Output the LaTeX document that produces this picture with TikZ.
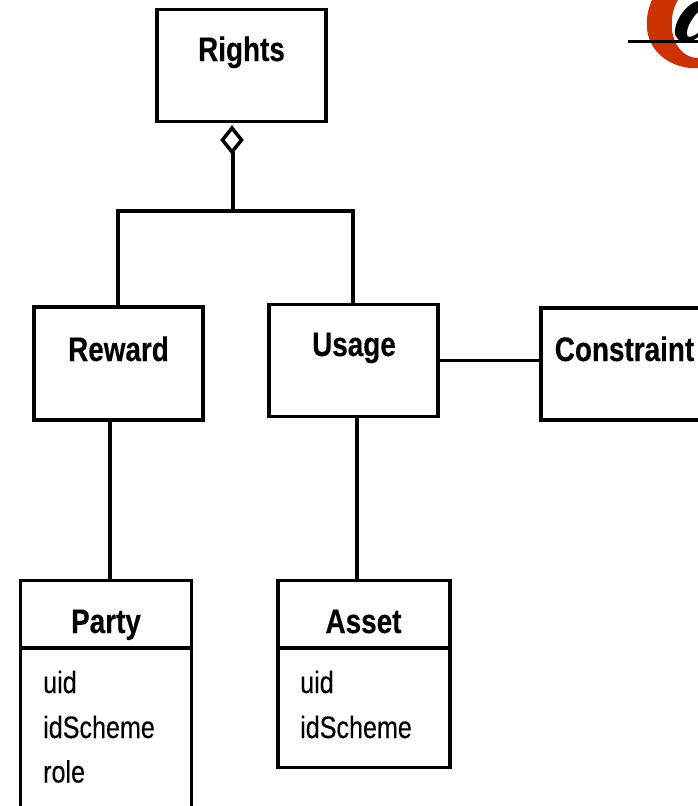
\documentclass[tikz,border=0pt]{standalone}
\usepackage{fontspec}
\usetikzlibrary{shapes.geometric}
\setmainfont[FakeStretch=0.81,FakeBold=0.25,BoldFeatures={FakeStretch=0.82,FakeBold=0.3}]{Liberation Sans}
\definecolor{logored}{RGB}{204,51,0}
\tikzset{
  umlbox/.style={draw=black,line width=3.5pt,fill=white,inner sep=0pt,outer sep=0pt,anchor=north west},
  conn/.style={draw=black,line width=3.5pt},
  title/.style={font=\fontsize{34}{34}\selectfont\bfseries,inner sep=0pt,anchor=base},
  attr/.style={font=\fontsize{31}{31}\selectfont,inner sep=0pt,anchor=base west}
}
\begin{document}
\begin{tikzpicture}[x=1pt,y=-1pt]
\useasboundingbox (0,0) rectangle (698,806);
\clip (0,0) rectangle (698,806);
% logo fragment
\fill[logored] (652,0) .. controls (644,18) and (644,40) .. (660,55) .. controls (672,66) and (688,69) .. (698,68) -- (698,58) .. controls (684,58) and (674,46) .. (672,30) .. controls (671,18) and (673,8) .. (678,0) -- cycle;
\fill[black] (698,1) .. controls (688,3) and (676,18) .. (675,30) .. controls (674,38) and (680,43) .. (688,42) .. controls (692,41) and (696,39) .. (698,37) -- (698,33) .. controls (694,36) and (688,39) .. (687,35) .. controls (686,28) and (692,18) .. (698,12) -- cycle;
\draw[black,line width=2.5pt] (628,41.5) -- (698,41.5);
% boxes
\node[umlbox,minimum width=169pt,minimum height=112pt] (rights) at (157,9.7) {};
\node[umlbox,minimum width=169pt,minimum height=113pt] (reward) at (34,307) {};
\node[umlbox,minimum width=169pt,minimum height=112pt] (usage) at (269,304.3) {};
\node[umlbox,minimum width=170pt,minimum height=112pt] (constraint) at (541,308) {};
\node[umlbox,minimum width=171pt,minimum height=240pt] (party) at (20.5,580.5) {};
\node[umlbox,minimum width=172pt,minimum height=187pt] (asset) at (278,580.5) {};
\coordinate (partyL) at (20.5,648);
\coordinate (partyR) at (191.5,648);
\coordinate (assetL) at (278,648);
\coordinate (assetR) at (450,648);
\draw[conn] (partyL) -- (partyR);
\draw[conn] (assetL) -- (assetR);
% aggregation
\node[draw=black,line width=3.5pt,fill=white,diamond,outer sep=0pt,minimum width=19pt,minimum height=24pt,inner sep=0pt] (dia) at (232,140) {};
\coordinate (junction) at (233,211);
\draw[conn] (dia.south -| junction) -- (junction);
\draw[conn] (reward.north -| 118,0) -- (118,211) -- (353,211) -- (usage.north -| 353,0);
\draw[conn] (usage.east |- 0,360.5) -- (constraint.west |- 0,360.5);
\draw[conn] (reward.south -| 110,0) -- (party.north -| 110,0);
\draw[conn] (usage.south -| 357,0) -- (asset.north -| 357,0);
% text
\node[title] (t1) at (241.5,61) {Rights};
\node[title] (t2) at (118.5,361) {Reward};
\node[title] (t3) at (354,356) {Usage};
\node[title] (t4) at (624.5,361) {Constraint};
\node[title] (t5) at (106,633) {Party};
\node[title] (t6) at (363.5,633) {Asset};
\node[attr] (a1) at (43,693) {uid};
\node[attr] (a2) at (43,738) {idScheme};
\node[attr] (a3) at (43,782.5) {role};
\node[attr] (a4) at (300,693) {uid};
\node[attr] (a5) at (300,738) {idScheme};
\end{tikzpicture}
\end{document}
